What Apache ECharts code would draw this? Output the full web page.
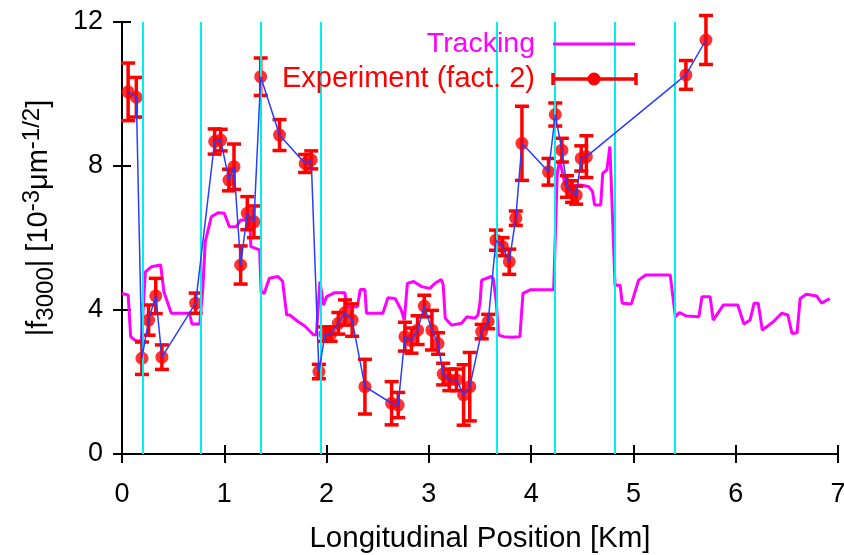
<!DOCTYPE html>
<html><head><meta charset="utf-8">
<script src="https://cdn.jsdelivr.net/npm/echarts@6/dist/echarts.min.js"></script>
<style>html,body{margin:0;padding:0;background:#fff}#c{width:844px;height:555px}</style>
</head><body><div id="c"></div>
<script>
// ---- data ----
const trackX = [0.00,0.06,0.085,0.12,0.17,0.19,0.228,0.286,0.378,0.41,0.482,0.66,0.684,0.76,0.79,0.814,0.873,0.938,1.00,1.05,1.117,1.16,1.25,1.26,1.345,1.36,1.39,1.44,1.525,1.57,1.61,1.64,1.72,1.79,1.87,1.90,1.935,1.97,2.00,2.08,2.18,2.195,2.30,2.33,2.375,2.39,2.55,2.60,2.67,2.73,2.76,2.79,2.85,2.93,3.01,3.06,3.12,3.14,3.16,3.22,3.32,3.37,3.45,3.48,3.50,3.516,3.61,3.63,3.66,3.68,3.73,3.81,3.89,3.92,3.99,4.22,4.255,4.28,4.33,4.38,4.48,4.56,4.60,4.62,4.68,4.70,4.74,4.77,4.82,4.87,4.89,4.98,5.05,5.12,5.36,5.41,5.45,5.52,5.64,5.67,5.75,5.78,5.88,6.02,6.08,6.14,6.18,6.22,6.26,6.37,6.45,6.51,6.55,6.60,6.63,6.69,6.79,6.84,6.92];
const trackY = [4.46,4.42,3.26,3.17,3.12,3.2,5.06,5.2,5.25,4.5,3.91,3.91,3.61,3.61,4.6,5.9,6.59,6.70,6.69,6.31,6.31,6.5,6.5,5.76,5.67,4.51,4.46,4.88,4.93,4.8,3.86,3.86,3.68,3.55,3.31,3.31,4.79,4.14,4.37,4.48,4.48,4.09,4.09,4.57,4.57,3.91,3.91,4.34,4.32,4.0,3.72,4.74,4.79,4.65,4.60,4.74,4.85,4.7,3.77,3.58,3.63,3.81,3.77,3.86,4.2,4.83,4.93,4.88,4.2,3.31,3.26,3.24,3.26,4.46,4.56,4.56,7.80,8.17,7.5,7.43,7.47,7.43,7.3,6.92,6.92,7.80,7.89,8.54,4.69,4.69,4.19,4.17,4.83,4.97,4.97,3.81,3.93,3.83,3.81,4.37,4.37,3.72,4.14,4.14,3.61,3.72,4.19,4.19,3.44,3.68,3.91,3.86,3.35,3.37,4.32,4.44,4.39,4.19,4.32];
const expX = [0.06,0.14,0.195,0.26,0.33,0.39,0.72,0.906,0.965,1.046,1.095,1.16,1.225,1.29,1.356,1.54,1.79,1.85,1.925,1.985,2.04,2.115,2.18,2.25,2.375,2.636,2.70,2.766,2.83,2.89,2.955,3.03,3.09,3.14,3.2,3.27,3.34,3.40,3.516,3.58,3.656,3.72,3.786,3.85,3.91,4.17,4.236,4.30,4.35,4.40,4.44,4.49,4.54,5.513,5.709];
const expY = [10.06,9.91,2.66,3.72,4.39,2.69,4.19,8.68,8.72,7.61,7.98,5.25,6.69,6.45,10.48,8.86,8.07,8.17,2.29,3.33,3.33,3.63,3.93,3.72,1.87,1.41,1.36,3.26,3.15,3.44,4.11,3.44,3.07,2.22,2.06,2.06,1.64,1.87,3.40,3.68,5.94,5.76,5.34,6.55,8.63,7.84,9.43,8.44,7.43,7.29,7.19,8.21,8.26,10.53,11.5];
const expErr = [0.8,0.55,0.45,0.42,0.49,0.34,0.28,0.35,0.3,0.3,0.63,0.53,0.46,0.44,0.52,0.43,0.25,0.25,0.2,0.2,0.2,0.3,0.35,0.45,0.76,0.6,0.35,0.4,0.35,0.4,0.3,0.55,0.3,0.3,0.3,0.3,0.84,0.95,0.2,0.2,0.28,0.25,0.35,0.2,1.03,0.37,0.32,0.33,0.3,0.3,0.25,0.35,0.58,0.4,0.68];
const cyanX = [0.2,0.774,1.36,1.94,3.66,4.23,4.82,5.40];
const xTickLabels = ['0','1','2','3','4','5','6','7'];
const yTickLabels = ['0','4','8','12'];
const xName = 'Longitudinal Position [Km]';
const legendNames = ['Tracking','Experiment (fact. 2)'];

// ---- chart ----
const FONT = "'Liberation Sans',Arial,sans-serif";
const chart = echarts.init(document.getElementById('c'), null, {renderer:'canvas'});
const axisLine = {show:true, lineStyle:{color:'#000', width:2}};
const axisTick = {show:true, inside:true, length:9, lineStyle:{color:'#000', width:2}};
const track = trackX.map((x,i)=>[x,trackY[i]]);
const exp = expX.map((x,i)=>[x,expY[i],expErr[i]]);

const option = {
  animation:false,
  backgroundColor:'#fff',
  grid:{left:122, right:6, top:22, bottom:101, containLabel:false, outerBoundsMode:'none'},
  xAxis:[{
    type:'value', min:0, max:7, interval:1, position:'bottom',
    axisLine, axisTick, splitLine:{show:false},
    axisLabel:{fontSize:27, color:'#000', fontFamily:FONT, margin:27,
      formatter:(v)=>xTickLabels[Math.round(v)]},
    name:xName, nameLocation:'middle', nameGap:70,
    nameTextStyle:{fontSize:29.5, color:'#000', fontFamily:FONT, verticalAlign:'top'}
  },{
    type:'value', min:0, max:7, interval:1, position:'top',
    axisLine, axisTick, splitLine:{show:false}, axisLabel:{show:false}
  }],
  yAxis:[{
    type:'value', min:0, max:12, interval:4, position:'left',
    axisLine, axisTick, splitLine:{show:false},
    axisLabel:{fontSize:27, color:'#000', fontFamily:FONT, margin:19,
      formatter:(v)=>yTickLabels[Math.round(v/4)]},
    name:'{n||f}{sub|3000}{n|| [10}{sup|-3}{n|μm}{sup|-1/2}{n|]}',
    nameLocation:'middle', nameRotate:90, nameGap:64,
    nameTextStyle:{color:'#000', fontFamily:FONT, fontSize:29, padding:[0,0,0,40],
      rich:{
        n:{fontSize:29, fontFamily:FONT, color:'#000', lineHeight:38, verticalAlign:'middle'},
        sub:{fontSize:24, fontFamily:FONT, color:'#000', lineHeight:38, verticalAlign:'bottom', padding:[10,0,0,0]},
        sup:{fontSize:24, fontFamily:FONT, color:'#000', lineHeight:38, verticalAlign:'top', padding:[0,0,10,0]}
      }}
  },{
    type:'value', min:0, max:12, interval:4, position:'right',
    axisLine, axisTick, splitLine:{show:false}, axisLabel:{show:false}
  }],
  series:[
    {type:'line', name:'cyan', data:[], z:1, silent:true,
      markLine:{silent:true, symbol:['none','none'], label:{show:false},
        lineStyle:{color:'#00f0f0', width:2, type:'solid'},
        emphasis:{disabled:true},
        data:cyanX.map(x=>({xAxis:x}))}},
    {type:'line', name:legendNames[0], data:track, showSymbol:false, z:2,
      lineStyle:{color:'#ff00ff', width:3}, itemStyle:{color:'#ff00ff'}},
    {type:'custom', name:'err', data:exp, z:3,
      renderItem:(params, api)=>{
        const x = api.value(0), y = api.value(1), e = api.value(2);
        const hi = api.coord([x, y+e]), lo = api.coord([x, y-e]);
        const cw = 7;
        const st = {stroke:'#ff0000', lineWidth:3.5};
        return {type:'group', children:[
          {type:'line', shape:{x1:hi[0],y1:hi[1],x2:lo[0],y2:lo[1]}, style:st},
          {type:'line', shape:{x1:hi[0]-cw,y1:hi[1],x2:hi[0]+cw,y2:hi[1]}, style:st},
          {type:'line', shape:{x1:lo[0]-cw,y1:lo[1],x2:lo[0]+cw,y2:lo[1]}, style:st}
        ]};
      }},
    {type:'scatter', name:legendNames[1], data:exp.map(d=>[d[0],d[1]]), z:4,
      symbol:'circle', symbolSize:13, itemStyle:{color:'#ff0000'}},
    {type:'line', name:'link', data:exp.map(d=>[d[0],d[1]]), showSymbol:false, z:5,
      lineStyle:{color:'#2a3cff', width:1.5}}
  ],
  graphic:[
    {type:'text', right:844-535, top:30, z:10,
      style:{text:legendNames[0], fill:'#ff00ff', font:'28.5px '+FONT, textAlign:'right'}},
    {type:'line', shape:{x1:553,y1:44,x2:635,y2:44}, style:{stroke:'#ff00ff', lineWidth:3}, z:10},
    {type:'text', right:844-535, top:64, z:10,
      style:{text:legendNames[1], fill:'#ff0000', font:'29px '+FONT, textAlign:'right'}},
    {type:'line', shape:{x1:553,y1:79,x2:636,y2:79}, style:{stroke:'#ff0000', lineWidth:3.5}, z:10},
    {type:'line', shape:{x1:553,y1:73,x2:553,y2:85}, style:{stroke:'#ff0000', lineWidth:3.5}, z:10},
    {type:'line', shape:{x1:636,y1:73,x2:636,y2:85}, style:{stroke:'#ff0000', lineWidth:3.5}, z:10},
    {type:'circle', shape:{cx:594,cy:79,r:6.5}, style:{fill:'#ff0000'}, z:10}
  ]
};
chart.setOption(option);
</script></body></html>
